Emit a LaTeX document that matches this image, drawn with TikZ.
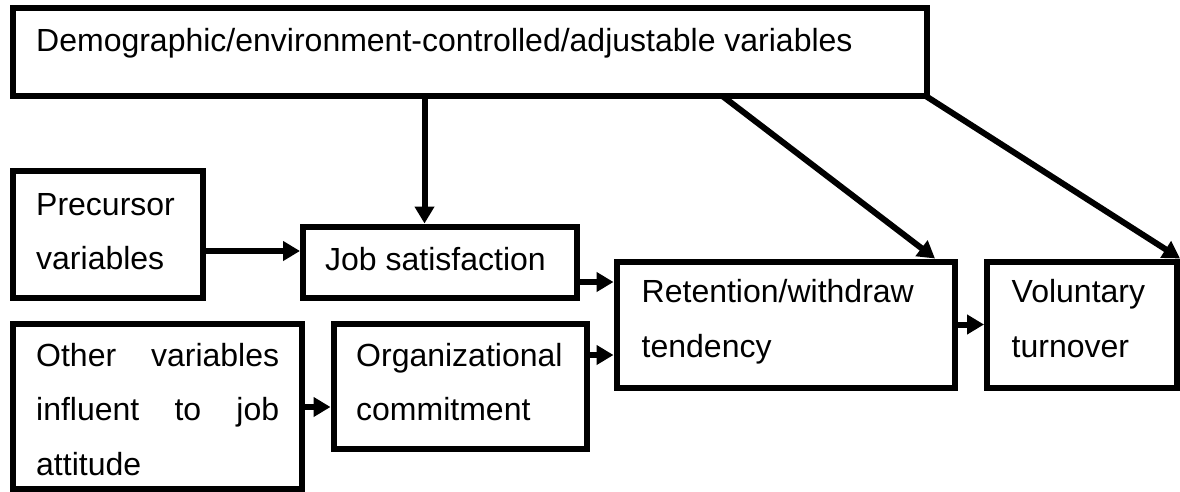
\documentclass[tikz,border=0pt]{standalone}
\usepackage{fontspec}
\setmainfont{Liberation Sans}
\usetikzlibrary{arrows.meta}
\tikzset{
  box/.style={draw, line width=6pt, rectangle, inner sep=0pt},
  lbl/.style={inner sep=0pt, anchor=base west, font=\fontsize{32}{54.7}\selectfont},
  arr/.style={line width=6pt, -{Triangle[length=17pt,width=19pt]}},
}
\begin{document}
\begin{tikzpicture}[x=1pt,y=-1pt]
\useasboundingbox (0,0) rectangle (1180,492);
% boxes
\node[box, minimum width=914pt, minimum height=88pt] (top) at (469.5,52.5) {};
\node[box, minimum width=190.5pt, minimum height=126.5pt] (prec) at (107.75,234.25) {};
\node[box, minimum width=274pt, minimum height=71.5pt] (job) at (440,262.25) {};
\node[box, minimum width=338.5pt, minimum height=126pt] (ret) at (785.75,324.5) {};
\node[box, minimum width=190pt, minimum height=126pt] (vol) at (1082,324.5) {};
\node[box, minimum width=289.5pt, minimum height=165.5pt] (other) at (157.25,406.25) {};
\node[box, minimum width=253pt, minimum height=125pt] (org) at (460,386) {};
% texts
\node[lbl] (ttop) at (36,52) {\parbox[t]{880pt}{Demographic/environment-controlled/adjustable variables}};
\node[lbl] (tprec) at (36,215) {\parbox[t]{170pt}{Precursor\\variables}};
\node[lbl] (tjob) at (325,270) {\parbox[t]{250pt}{Job satisfaction}};
\node[lbl] (tret) at (641.5,302.5) {\parbox[t]{300pt}{Retention/withdraw\\tendency}};
\node[lbl] (tvol) at (1011.5,302.5) {\parbox[t]{165pt}{Voluntary\\turnover}};
\node[lbl] (tother) at (36,366) {\parbox[t]{243pt}{Other\hfill variables\\influent\hfill to\hfill job\\attitude}};
\node[lbl] (torg) at (356,366) {\parbox[t]{225pt}{Organizational\\commitment}};
% connectors
\coordinate (vx) at (424.5,0);
\draw[arr] (top.south -| vx) -- (job.north -| vx);
\coordinate (h1) at (0,251);
\draw[arr] (prec.east |- h1) -- (job.west |- h1);
\coordinate (h2) at (0,282);
\draw[arr] (job.east |- h2) -- (ret.west |- h2);
\coordinate (h3) at (0,407);
\draw[arr] (other.east |- h3) -- (org.west |- h3);
\coordinate (h4) at (0,355);
\draw[arr] (org.east |- h4) -- (ret.west |- h4);
\draw[arr] (ret.east) -- (vol.west);
\coordinate (d1s) at (723,0);
\coordinate (d1e) at (935,0);
\draw[arr] ([yshift=3pt]top.south -| d1s) -- (ret.north -| d1e);
\draw[arr] ([xshift=-3pt,yshift=3pt]top.south east) -- (vol.north east);
\end{tikzpicture}
\end{document}
